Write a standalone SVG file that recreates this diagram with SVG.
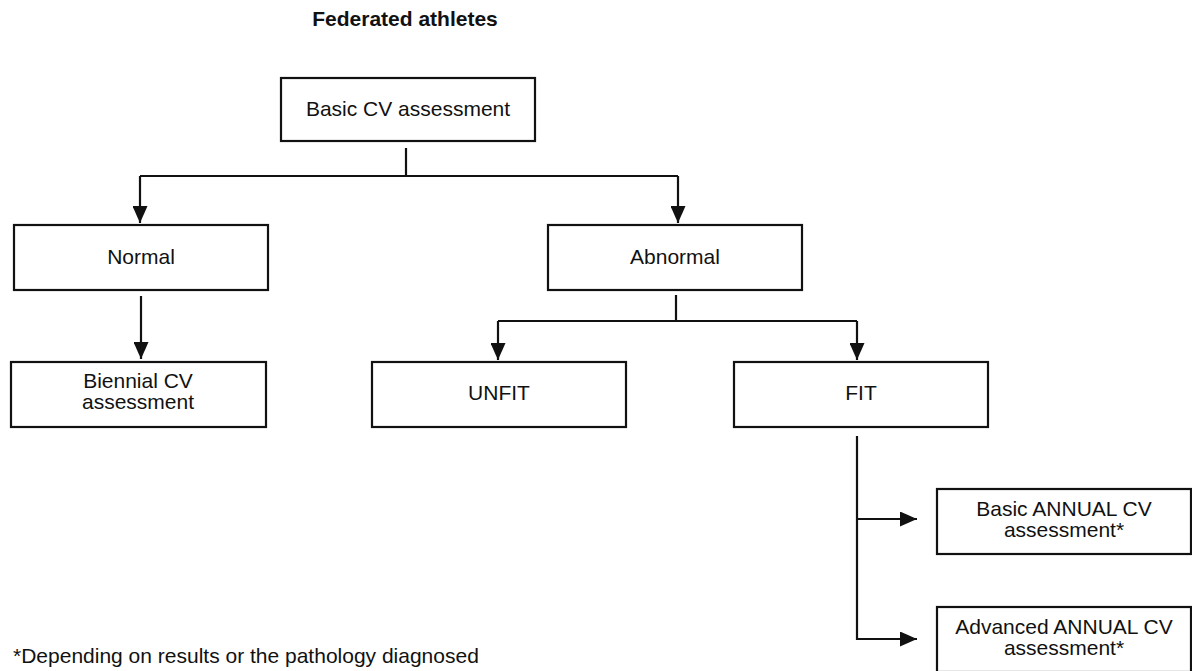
<svg xmlns="http://www.w3.org/2000/svg" width="1192" height="671" viewBox="0 0 1192 671">
<style>
.box{fill:#fff;stroke:#111;stroke-width:2.2}
.t{font-family:"Liberation Sans",Arial,sans-serif;font-size:21px;fill:#111;text-anchor:middle}
.title{font-family:"Liberation Sans",Arial,sans-serif;font-size:21px;font-weight:bold;fill:#111;text-anchor:middle}
.note{font-family:"Liberation Sans",Arial,sans-serif;font-size:21px;fill:#111}
.c{fill:none;stroke:#111;stroke-width:2.2}
</style>
<defs>
<marker id="ah" markerUnits="userSpaceOnUse" markerWidth="17" markerHeight="15" refX="17" refY="7.5" orient="auto">
<path d="M0,0 L17,7.5 L0,15 Z" fill="#111"/>
</marker>
</defs>
<rect width="1192" height="671" fill="#fff"/>
<text class="title" x="405" y="26">Federated athletes</text>
<g id="connectors">
<path class="c" d="M406,148 V176"/>
<path class="c" d="M140,176 H678"/>
<path class="c" d="M140,176 V223" marker-end="url(#ah)"/>
<path class="c" d="M678,176 V223" marker-end="url(#ah)"/>
<path class="c" d="M141,296 V359" marker-end="url(#ah)"/>
<path class="c" d="M676,295 V321"/>
<path class="c" d="M498,321 H857"/>
<path class="c" d="M498,321 V360" marker-end="url(#ah)"/>
<path class="c" d="M857,321 V360" marker-end="url(#ah)"/>
<path class="c" d="M857,436 V639 H917" marker-end="url(#ah)"/>
<path class="c" d="M857,519 H917" marker-end="url(#ah)"/>
</g>
<g id="basic-cv">
<rect class="box" x="281" y="78" width="254" height="63"/>
<text class="t" x="408" y="116">Basic CV assessment</text>
</g>
<g id="normal">
<rect class="box" x="14" y="225" width="254" height="65"/>
<text class="t" x="141" y="264">Normal</text>
</g>
<g id="abnormal">
<rect class="box" x="548" y="225" width="254" height="65"/>
<text class="t" x="675" y="264">Abnormal</text>
</g>
<g id="biennial">
<rect class="box" x="11" y="362" width="255" height="65"/>
<text class="t" x="138" y="388">Biennial CV</text>
<text class="t" x="138" y="409">assessment</text>
</g>
<g id="unfit">
<rect class="box" x="372" y="362" width="254" height="65"/>
<text class="t" x="499" y="400">UNFIT</text>
</g>
<g id="fit">
<rect class="box" x="734" y="362" width="254" height="65"/>
<text class="t" x="861" y="400">FIT</text>
</g>
<g id="basic-annual">
<rect class="box" x="937" y="489" width="254" height="65"/>
<text class="t" x="1064" y="516">Basic ANNUAL CV</text>
<text class="t" x="1064" y="537">assessment*</text>
</g>
<g id="advanced-annual">
<rect class="box" x="937" y="607" width="254" height="65"/>
<text class="t" x="1064" y="634">Advanced ANNUAL CV</text>
<text class="t" x="1064" y="655">assessment*</text>
</g>
<text class="note" x="13" y="663">*Depending on results or the pathology diagnosed</text>
</svg>
